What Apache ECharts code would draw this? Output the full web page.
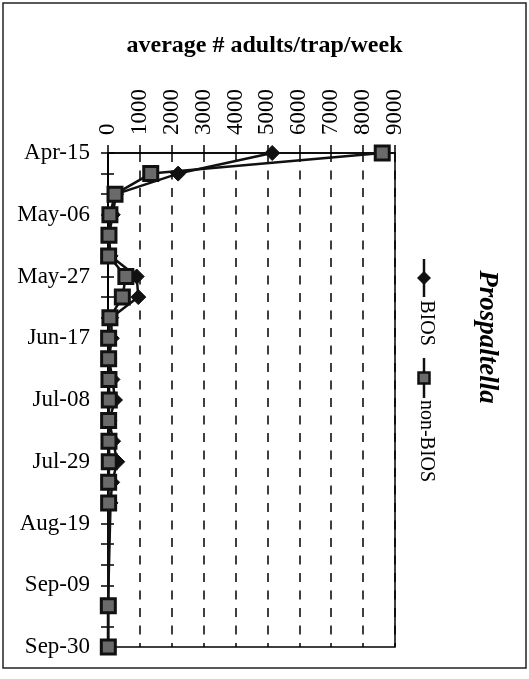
<!DOCTYPE html>
<html>
<head>
<meta charset="utf-8">
<script src="https://cdn.jsdelivr.net/npm/echarts@6/dist/echarts.min.js"></script>
<style>
html,body{margin:0;padding:0;background:#fff;}
#chart{width:529px;height:679px;}
</style>
</head>
<body>
<div id="chart"></div>
<script>
var dates = ['Apr-15','Apr-22','Apr-29','May-06','May-13','May-20','May-27','Jun-03','Jun-10','Jun-17','Jun-24','Jul-01','Jul-08','Jul-15','Jul-22','Jul-29','Aug-05','Aug-12','Aug-19','Aug-26','Sep-02','Sep-09','Sep-16','Sep-23','Sep-30'];
var biosValues = [5150, 2200, 250, 150, 30, 80, 900, 950, 100, 120, 30, 140, 220, 40, 160, 290, 130, 80, null, null, null, null, 0, null, 0];
var nonBiosValues = [8600, 1340, 220, 60, 30, 20, 560, 450, 60, 20, 20, 30, 40, 20, 30, 40, 20, 20, null, null, null, null, 10, null, 10];
var valueTicks = [0, 1000, 2000, 3000, 4000, 5000, 6000, 7000, 8000, 9000];
var seriesNames = ['BIOS', 'non-BIOS'];
var chartTitle = 'average # adults/trap/week';
var legendTitle = 'Prospaltella';

var serif = "'Liberation Serif','Times New Roman',serif";
var chart = echarts.init(document.getElementById('chart'));
var option = {
  backgroundColor: '#fff',
  animation: false,
  title: {
    text: chartTitle,
    left: 'center',
    top: 29,
    textStyle: {fontFamily: serif, fontSize: 24, fontWeight: 'bold', color: '#000'}
  },
  grid: {left: 108, top: 153, right: 134, bottom: 32, show: true, borderColor: '#000', borderWidth: 1.5, backgroundColor: 'transparent'},
  xAxis: {
    type: 'value', position: 'top',
    min: valueTicks[0], max: valueTicks[valueTicks.length - 1], interval: 1000,
    axisLine: {show: true, lineStyle: {color: '#000', width: 1.5}},
    axisTick: {show: true, length: 8, lineStyle: {color: '#000', width: 1.5}},
    axisLabel: {rotate: -90, margin: 18, fontFamily: serif, fontSize: 23, color: '#000',
      formatter: function (v) { return String(v); }},
    splitLine: {show: true, lineStyle: {color: '#000', width: 1.5, type: [9, 8.5]}}
  },
  yAxis: [{
    type: 'category', data: dates, inverse: true, boundaryGap: false,
    axisLine: {show: true, lineStyle: {color: '#000', width: 2}},
    axisTick: {show: true, interval: 0, length: 7, lineStyle: {color: '#000', width: 1.5}},
    axisLabel: {interval: 2, margin: 18, fontFamily: serif, fontSize: 23, color: '#000'},
    splitLine: {show: false}
  }, {
    type: 'category', data: dates, inverse: true, boundaryGap: false, position: 'left',
    axisLine: {show: false},
    axisTick: {show: true, inside: true, interval: 0, length: 6, lineStyle: {color: '#000', width: 1.5}},
    axisLabel: {show: false},
    splitLine: {show: false}
  }],
  series: [{
    name: seriesNames[0], type: 'line', data: biosValues, connectNulls: true,
    showSymbol: true, showAllSymbol: true,
    symbol: 'diamond', symbolSize: 15,
    lineStyle: {color: '#111', width: 2.5},
    itemStyle: {color: '#111', borderColor: '#111', borderWidth: 1},
    z: 2
  }, {
    name: seriesNames[1], type: 'line', data: nonBiosValues, connectNulls: true,
    showSymbol: true, showAllSymbol: true,
    symbol: 'rect', symbolSize: 14,
    lineStyle: {color: '#111', width: 2.5},
    itemStyle: {color: '#6a6a6a', borderColor: '#111', borderWidth: 3},
    z: 3
  }],
  graphic: [
    {type: 'rect', shape: {x: 3, y: 3, width: 523, height: 665}, style: {fill: 'none', stroke: '#222', lineWidth: 1.5}, silent: true},
    {type: 'text', x: 487, y: 337, rotation: -Math.PI / 2,
      style: {text: legendTitle, font: "italic bold 27px 'Liberation Serif', serif", fill: '#000', align: 'center', verticalAlign: 'middle'}},
    {type: 'line', shape: {x1: 424, y1: 259, x2: 424, y2: 297}, style: {stroke: '#111', lineWidth: 2.5}},
    {type: 'polygon', shape: {points: [[424, 271], [431, 278], [424, 285], [417, 278]]}, style: {fill: '#111'}},
    {type: 'text', x: 426, y: 323, rotation: -Math.PI / 2,
      style: {text: seriesNames[0], font: "20px 'Liberation Serif', serif", fill: '#000', align: 'center', verticalAlign: 'middle'}},
    {type: 'line', shape: {x1: 424, y1: 358, x2: 424, y2: 398}, style: {stroke: '#111', lineWidth: 2.5}},
    {type: 'rect', shape: {x: 418.5, y: 372.5, width: 11, height: 11}, style: {fill: '#6a6a6a', stroke: '#111', lineWidth: 2.5}},
    {type: 'text', x: 426, y: 441, rotation: -Math.PI / 2,
      style: {text: seriesNames[1], font: "20px 'Liberation Serif', serif", fill: '#000', align: 'center', verticalAlign: 'middle'}}
  ]
};
chart.setOption(option);
</script>
</body>
</html>
